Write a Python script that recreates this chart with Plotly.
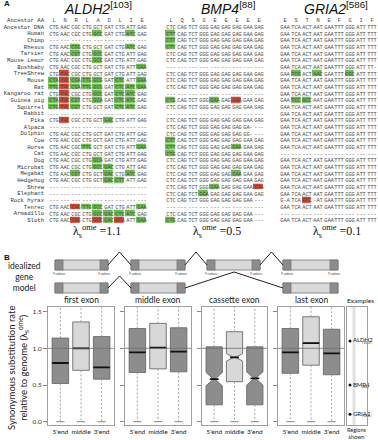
import plotly.graph_objects as go

W, H = 378, 440
def px(x): return x / W
def py(y): return 1 - y / H

# ---------------- Panel A data ----------------
species = ["Human", "Chimp", "Rhesus", "Tarsier", "Mouse Lemur", "Bushbaby", "TreeShrew",
           "Mouse", "Rat", "Kangaroo rat", "Guinea pig", "Squirrel", "Rabbit", "Pika",
           "Alpaca", "Dolphin", "Cow", "Horse", "Cat", "Dog", "Microbat", "Megabat",
           "Hedgehog", "Shrew", "Elephant", "Rock hyrax", "Tenrec", "Armadillo", "Sloth"]
row_labels = ["Ancestor AA", "Ancestor DNA"] + species

D = "--- --- --- --- --- --- --- --- ---"

aldh2_aa = ["L", "N", "R", "L", "A", "D", "L", "I", "E"]
aldh2_anc = "CTG AAC CGC CTG GCT GAT CTG ATT GAG"
aldh2_seq = [
    "CTG AAC CGC CTG GCC GAT CTG ATC GAG", D,
    "CTG AAC CGG CTG GCT GAT CTG ATC GAG", "CTG AAC CGT CTG GCC GAT CTG ATT GAG",
    "CTG AAC CGC CTG GCC GAT CTG ATT GAG", "CTG AAC CGC CTG GCT GAT CTG ATT GAA",
    "CTG TAC CGC CTG GCT GAT CTG ATT GAG", "CTA TAC CGA TTG GCG GAT CTC ATT GAA",
    "TTG TAC CGA TTG GCG GAT CTC ATC GAA", "CTG TAC CGC CTG GCC GAT CTC ATC GAG",
    "CTA TAC CGT CTG GCA GAT CTC ATC GAG", "CTG TAC CGT CTG GCT GAT CTC ATC GAG",
    D, "CTG TAC CGC CTG GCT GAC CTG ATT GAG", D,
    "CTG AAC CGC CTG GCT GAT CTG ATT GAG", "CTG AAC CGC CTG GCT GAT CTG ATT GAG",
    "CTG AAC CGC TTG GCT GAT CTG ATT GAA", "CTG AAC CGC CTG GCT GAT CTG ATT GAG",
    "CTG AAC CGC CTG GCA GAT CTG ATT GAG", "CTG AAC CGC CTG GCC GAC CTG ATT GAG",
    "CTG AAC CGT CTG GCT GAC CTG ATC GAG", "CTG AAC CGC CTG GCT GAC CTT ATT GAG",
    D, D, D,
    "CTG AAC CAG TTG GCC GAT CTG ATT GAA", "CTG AAC CGC CTG GCC GAC CTC ATC GAG",
    "CTG AAC CAG CTG GCC GAC GCA ATT GAA"]
# 0 none, 1 green (synonymous), 2 dark green, 3 red (non-synonymous)
aldh2_hl = ["000010010", "000000000", "001000010", "001010000", "000010000", "000000001",
            "030000000", "131110101", "131110111", "030010110", "131010110", "131000110",
            "000000000", "030001000", "000000000", "000000000", "000000000", "000100001",
            "000000000", "000010000", "000011000", "001001010", "000001100", "000000000",
            "000000000", "000000000", "003110001", "000011110", "003021301"]

bmp4_aa = ["L", "Q", "S", "G", "E", "E", "E", "E", "E"]
bmp4_anc = "CTC CAG TCT GGG GAG GAG GAG GAA GAG"
P = bmp4_anc
bmp4_seq = [
    "CTT CAG TCT GGG GAG GAG GAG GAA GAG", "CTT CAG TCT GGG GAG GAG GAG GAA GAG",
    "CTT CAG TCT GGG GAG GAG GAG GAA GAG", P, P, D, P, P, P, D,
    "CTG CAG TCT GGG GAA GAG GAA GAA GAG", P, D, P,
    "CTC CAG TCT GGG GAG GAG GAG GA- ---", "CTC CAG TCT GGG GAG GAG GAG GG- ---",
    "CTT CAG TCT GGG GAG GAG GAG GAA GAG", "CTT CAG TCT GGG GAG GAG GAA GAA GAG",
    "CTG CAG TCT GGG GAG GAG GAG GAA GAG", P, P,
    "CTC CAG TCT GGG GAG GAG GAA GAA GAG", P,
    "CTC CAG TCT GGG GAA GAG GAG GAA GAA", "CTC CAG TCT GGA GAG GAG GAG GAA GAG",
    "CTC CAG TCT GGG GAG GAG GAG GAA ---", D,
    "CTC CAG TCT GGG GAG GAG GAG GAA ---", "CTG CAG TCT GGG GAG GAG GAG GAA ---"]
bmp4_hl = ["100000000", "100000000", "100000000", "000000000", "000000000", "000000000",
           "000000000", "000000000", "000000000", "000000000", "100010200", "000000000",
           "000000000", "000000000", "000000000", "000000000", "100000000", "100000100",
           "100000000", "000000000", "000000000", "000000100", "000000000", "000010002",
           "000100000", "000000000", "000000000", "000000000", "100000000"]

gria2_aa = ["E", "S", "T", "N", "E", "F", "G", "I", "F"]
gria2_anc = "GAA TCA ACT AAT GAA TTT GGG ATT TTT"
G = gria2_anc
gria2_seq = [G, G, G, G, G, "GAA TCA ACT AAT GAA TTT GGG ATT TT-",
             "GAA TCG ACT AAC GAA TTT GGC ATT TTT", G, G, G,
             "GAA TCC ACC AAT GAA TTT GGG ATT TTT", G, G, G, G, G, G, G, D, G, G, G, G, G, G,
             "G-A TCA GCC -AT GAA TTT GGG ATT TTT", G, D, G]
gria2_hl = ["000000000"] * 6 + ["010100100"] + ["000000000"] * 3 + ["011000000"] + \
           ["000000000"] * 14 + ["003000000"] + ["000000000"] * 3

genes = ["ALDH2", "BMP4", "GRIA2"]
gene_refs = ["[103]", "[88]", "[586]"]
gene_lambda = [1.1, 0.5, 0.1]

# ---------------- Panel B data ----------------
exon_types = ["first exon", "middle exon", "cassette exon", "last exon"]
regions = ["5'end", "middle", "3'end"]
first_q1 = [0.52, 0.70, 0.58]
first_med = [0.80, 1.00, 0.74]
first_q3 = [1.14, 1.36, 1.16]
middle_q1 = [0.67, 0.72, 0.68]
middle_med = [0.945, 1.01, 0.955]
middle_q3 = [1.27, 1.34, 1.28]
cassette_q1 = [0.23, 0.545, 0.23]
cassette_med = [0.58, 0.877, 0.59]
cassette_q3 = [1.02, 1.226, 1.02]
cassette_notch = [0.09, 0.05, 0.09]
last_q1 = [0.66, 0.77, 0.64]
last_med = [0.945, 1.07, 0.93]
last_q3 = [1.27, 1.43, 1.26]
whisker_lo = [0.0, 0.0, 0.0]
whisker_hi = [1.65, 1.65, 1.65]

example_genes = ["ALDH2", "BMP4", "GRIA2"]
example_refs = ["[103]", "[88]", "[586]"]
example_vals = [1.1, 0.5, 0.1]

# ---------------- figure ----------------
fig = go.Figure()

def note(x, y, text, size, family="Lato", color="#222", **kw):
    fig.add_annotation(x=px(x), y=py(y), xref="paper", yref="paper", text=text, showarrow=False,
                       xanchor=kw.pop("xanchor", "center"), yanchor=kw.pop("yanchor", "middle"),
                       font=dict(family=family, size=size, color=color), **kw)

GREEN, DKGREEN, RED = "#6cbb4f", "#2f7a32", "#d2432c"
cscale = [[0, "rgba(255,255,255,0)"], [0.125, "rgba(255,255,255,0)"],
          [0.125, GREEN], [0.375, GREEN], [0.375, DKGREEN], [0.625, DKGREEN],
          [0.625, RED], [1, RED]]

gene_data = [(aldh2_aa, aldh2_anc, aldh2_seq, aldh2_hl),
             (bmp4_aa, bmp4_anc, bmp4_seq, bmp4_hl),
             (gria2_aa, gria2_anc, gria2_seq, gria2_hl)]
gene_px = [(48, 147), (165, 264), (280, 377)]
title_cx = [98, 228, 336]
lambda_cx = [97, 217, 337]
row_top, row_bot = 16.7, 223.3

for gi, (aa, anc, seqs, hls) in enumerate(gene_data):
    text = [aa, anc.split()] + [s.split() for s in seqs]
    z = [[0] * 9, [0] * 9] + [[int(c) for c in h] for h in hls]
    ax = "" if gi == 0 else str(gi + 1)
    fig.add_trace(go.Heatmap(
        z=z, text=text, texttemplate="%{text}", x=list(range(9)), y=list(range(len(row_labels))),
        colorscale=cscale, zmin=0, zmax=3, showscale=False, xgap=1.3, ygap=0.7,
        textfont=dict(family="Liberation Mono", size=5.4, color="#4a4a4a"),
        hoverinfo="skip", xaxis="x" + ax, yaxis="y" + ax))
    x0, x1 = gene_px[gi]
    fig.layout["xaxis" + ax] = dict(domain=[px(x0), px(x1)], range=[-0.5, 8.5], visible=False,
                                    anchor="y" + ax, fixedrange=True)
    ycfg = dict(domain=[py(row_bot), py(row_top)], range=[len(row_labels) - 0.5, -0.5],
                anchor="x" + ax, showgrid=False, zeroline=False, fixedrange=True)
    if gi == 0:
        ycfg.update(tickvals=list(range(len(row_labels))), ticktext=row_labels, ticks="",
                    tickfont=dict(family="Liberation Mono", size=5.6, color="#333"),
                    ticklabelstandoff=3)
    else:
        ycfg.update(visible=False)
    fig.layout["yaxis" + ax] = ycfg
    note(title_cx[gi], 8, "<i>%s</i><sup>%s</sup>" % (genes[gi], gene_refs[gi]), 14,
         family="Liberation Sans", color="#111")
    note(lambda_cx[gi], 232, "λ<sub>s</sub><sup>ome</sup> =%s" % gene_lambda[gi], 12,
         family="Liberation Serif", color="#111")

note(2, 4, "<b>A</b>", 8, family="Liberation Sans", color="#111", xanchor="left")
note(2, 257, "<b>B</b>", 8, family="Liberation Sans", color="#111", xanchor="left")

# ---------------- gene model (schematic) ----------------
EX = [(55, 108), (131, 185), (207, 260), (283, 338)]
def exon(x0, x1, y0, y1):
    fig.add_shape(type="rect", xref="paper", yref="paper", x0=px(x0), x1=px(x1), y0=py(y1), y1=py(y0),
                  fillcolor="#d9d9d9", line=dict(color="#777", width=0.8))
    for a, b in [(x0, x0 + 8), (x1 - 8, x1)]:
        fig.add_shape(type="rect", xref="paper", yref="paper", x0=px(a), x1=px(b), y0=py(y1), y1=py(y0),
                      fillcolor="#8c8c8c", line=dict(color="#777", width=0.8))
def caret(xa, xb, ymid, ypeak):
    xm = (xa + xb) / 2
    fig.add_shape(type="path", xref="paper", yref="paper",
                  path="M %f %f L %f %f L %f %f" % (px(xa), py(ymid), px(xm), py(ypeak), px(xb), py(ymid)),
                  line=dict(color="#222", width=1))
for (a, b) in EX:
    exon(a, b, 260, 270)
    for xx in (a + 4, b - 4):
        note(xx, 274, "9 codons", 3, color="#444")
for i in range(3):
    caret(EX[i][1], EX[i + 1][0], 265, 252)
for i in (0, 1, 3):
    exon(EX[i][0], EX[i][1], 283, 293)
caret(EX[0][1], EX[1][0], 288, 276)
caret(EX[1][1], EX[3][0], 288, 272)
note(24, 277, "idealized<br>gene<br>model", 8.5)

# ---------------- box panels ----------------
panel_px = [(48, 114), (125, 191), (202, 267), (278, 344)]
ybox = [py(425), py(306.5)]
yrange = [-0.045, 1.57]
stats = [(first_q1, first_med, first_q3, None),
         (middle_q1, middle_med, middle_q3, None),
         (cassette_q1, cassette_med, cassette_q3, cassette_notch),
         (last_q1, last_med, last_q3, None)]
DARK, LIGHT = "#8d8d8d", "#d8d8d8"
BW = 0.8
NW = 0.45
for pi, (q1, med, q3, notch) in enumerate(stats):
    n = pi + 4
    xa, ya = "x%d" % n, "y%d" % n
    wx, wy = [], []
    for j in range(3):
        wx += [j, j, None, j, j, None]
        wy += [q3[j], whisker_hi[j], None, q1[j], whisker_lo[j], None]
    fig.add_trace(go.Scatter(x=wx, y=wy, mode="lines", xaxis=xa, yaxis=ya, hoverinfo="skip",
                             line=dict(color="#9a9a9a", width=0.9, dash="2px,2px"), showlegend=False))
    cx, cy = [], []
    for j in range(3):
        cx += [j - 0.2, j + 0.2, None]
        cy += [whisker_lo[j], whisker_lo[j], None]
    fig.add_trace(go.Scatter(x=cx, y=cy, mode="lines", xaxis=xa, yaxis=ya, hoverinfo="skip",
                             line=dict(color="#777", width=0.9), showlegend=False))
    for j in range(3):
        kw = {}
        if notch is not None:
            kw = dict(notched=True, notchspan=[notch[j]], notchwidth=NW)
        fig.add_trace(go.Box(x=[j], q1=[q1[j]], median=[med[j]], q3=[q3[j]],
                             lowerfence=[q1[j]], upperfence=[q3[j]], width=BW,
                             fillcolor=LIGHT if j == 1 else DARK,
                             line=dict(color="#6a6a6a", width=0.9), whiskerwidth=0,
                             boxpoints=False, xaxis=xa, yaxis=ya, hoverinfo="skip",
                             showlegend=False, **kw))
        hw = BW / 2 * ((1 - NW) if notch is not None else 1)
        fig.add_trace(go.Scatter(x=[j - hw, j + hw], y=[med[j], med[j]], mode="lines",
                                 xaxis=xa, yaxis=ya, hoverinfo="skip", showlegend=False,
                                 line=dict(color="#111", width=1.8)))
    x0, x1 = panel_px[pi]
    fig.layout["xaxis%d" % n] = dict(domain=[px(x0), px(x1)], range=[-0.6, 2.6], anchor=ya,
                                     tickvals=[0, 1, 2], ticktext=regions, ticks="", tickangle=0,
                                     tickfont=dict(family="Lato", size=6.5, color="#222"),
                                     showline=True, mirror=True, linecolor="#a0a0a0", linewidth=1,
                                     showgrid=False, zeroline=False, fixedrange=True)
    fig.layout["yaxis%d" % n] = dict(domain=ybox, range=yrange, anchor=xa,
                                     tickvals=[0, 0.5, 1.0, 1.5], ticktext=["0.0", "0.5", "1.0", "1.5"],
                                     showticklabels=(pi == 0), ticks="outside", ticklen=4,
                                     tickcolor="#888", tickfont=dict(family="Lato", size=6.5, color="#333"),
                                     showline=True, mirror=True, linecolor="#a0a0a0", linewidth=1,
                                     showgrid=False, zeroline=False, fixedrange=True)
    fig.add_shape(type="line", xref="%s domain" % xa, yref=ya, x0=0, x1=1, y0=1, y1=1,
                  line=dict(color="#6f6f6f", width=0.8), layer="above")
    note((x0 + x1) / 2, 300, exon_types[pi], 8.5)

# examples panel
fig.add_shape(type="line", xref="x8", yref="y8 domain", x0=0.35, x1=0.35, y0=0, y1=1,
              line=dict(color="#e0e0e0", width=3), layer="below")
fig.add_trace(go.Scatter(x=[0.15] * 3, y=example_vals, mode="markers+text", text=example_genes,
                         textposition="middle right", cliponaxis=False,
                         textfont=dict(family="Lato", size=6, color="#222"),
                         marker=dict(color="#111", size=3), xaxis="x8", yaxis="y8",
                         hoverinfo="skip", showlegend=False))
fig.add_trace(go.Scatter(x=[0.75] * 3, y=example_vals, mode="text", text=example_refs,
                         textposition="bottom right", cliponaxis=False,
                         textfont=dict(family="Lato", size=4, color="#333"),
                         xaxis="x8", yaxis="y8", hoverinfo="skip", showlegend=False))
fig.layout["xaxis8"] = dict(domain=[px(347), px(367)], range=[0, 1], anchor="y8", showticklabels=False,
                            ticks="", showline=True, mirror=True, linecolor="#a0a0a0", linewidth=1,
                            showgrid=False, zeroline=False, fixedrange=True)
fig.layout["yaxis8"] = dict(domain=ybox, range=yrange, anchor="x8", showticklabels=False, ticks="",
                            showline=True, mirror=True, linecolor="#a0a0a0", linewidth=1,
                            showgrid=False, zeroline=False, fixedrange=True)
note(360, 300, "Examples", 6.5)
note(357, 433, "Regions<br>shown", 5.5)

note(18, 368, "Synonymous substitution rate<br>relative to genome (λ<sub>s</sub><sup>ome</sup>)", 9.5,
     textangle=-90)

fig.update_layout(width=W, height=H, autosize=False, margin=dict(l=0, r=0, t=0, b=0),
                  paper_bgcolor="white", plot_bgcolor="white", showlegend=False)
fig.write_html("out.html", config={"displayModeBar": False, "staticPlot": True},
               post_script="document.body.style.margin='0';document.body.style.overflow='hidden';")
